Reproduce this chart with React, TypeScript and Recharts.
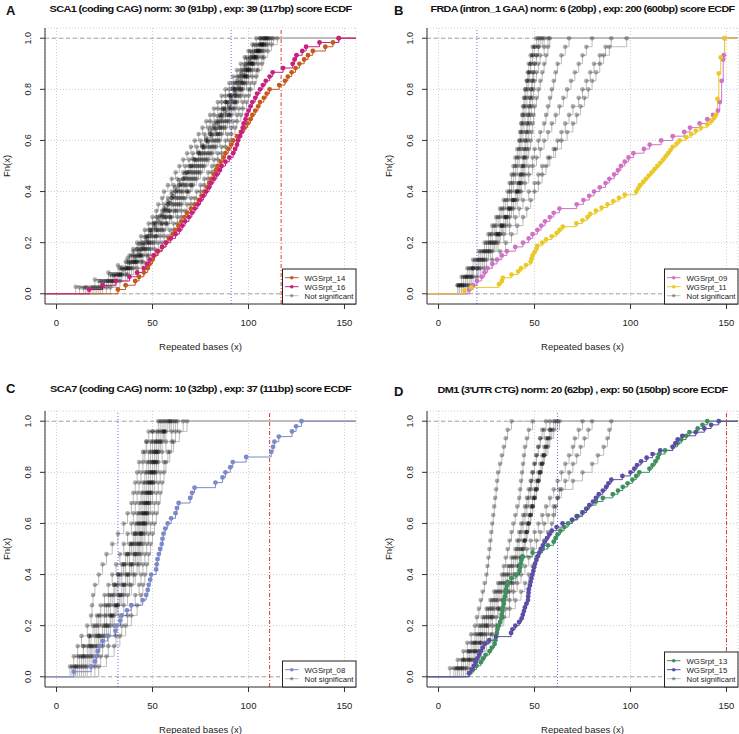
import React from "react";
import { LineChart, Line, XAxis, YAxis, CartesianGrid, ReferenceLine } from "recharts";

// ---- SCA1 (panel A) sample values, repeated bases ----
const sca1Rpt14 = [32, 36, 41, 43, 45.5, 47.5, 48.5, 50, 51, 53, 55, 57, 58.5, 60.5, 62, 63.5, 65, 66.7, 68, 70, 72, 74, 75.5, 77, 78.5, 79.5, 80.5, 82, 83, 84, 85.5, 87, 88, 89.5, 91, 92, 94, 96, 98, 99.5, 101, 102, 103.5, 105, 106, 108, 109.5, 111, 116, 119, 120.5, 122.5, 124.5, 126.5, 129, 131, 133.5, 140, 144, 147];
const sca1Rpt16 = [17, 24, 31, 38, 42, 45.5, 47, 48.5, 50.5, 52.5, 55, 57, 59.5, 62, 64, 65.5, 67, 69, 70.5, 72, 73.6, 75, 76.5, 78, 79.5, 80.5, 82, 83.5, 85, 86, 88, 90, 92, 93, 94, 94.5, 95.5, 96.5, 97, 97.5, 98.5, 99, 100, 101, 102, 103.5, 104.5, 106, 107.5, 109, 111, 112.6, 118, 123, 124, 125, 128, 130, 137, 147];
const sca1Gray = [
  [12, 22, 28, 33, 36, 38, 40, 42, 44, 46, 48, 50, 52, 53, 55, 56, 58, 60, 62, 64, 66, 68, 70, 72, 74, 76, 78, 80, 82, 84, 86, 88, 90, 92, 94, 96, 98, 100, 102, 104],
  [16, 25, 30, 34, 38, 40, 42, 44, 47, 48, 50, 52, 55, 56, 58, 60, 61, 63, 66, 67, 69, 71, 73, 75, 77, 79, 80, 82, 84, 86, 88, 90, 92, 94, 96, 98, 99, 101, 103, 106],
  [18, 26, 31, 36, 39, 41, 44, 46, 48, 50, 52, 55, 57, 58, 60, 62, 64, 66, 68, 70, 72, 74, 76, 78, 80, 81, 83, 85, 87, 88, 90, 92, 93, 95, 97, 99, 101, 103, 105, 107],
  [20, 27, 32, 36, 40, 42, 44, 47, 49, 52, 54, 56, 58, 60, 62, 64, 66, 68, 70, 72, 74, 76, 77, 79, 81, 83, 85, 86, 88, 89, 91, 93, 94, 96, 98, 100, 101, 104, 106, 108],
  [21, 28, 33, 38, 41, 43, 46, 48, 51, 53, 55, 57, 59, 62, 64, 66, 68, 70, 72, 74, 75, 77, 79, 81, 83, 85, 86, 88, 90, 91, 93, 94, 96, 98, 99, 101, 103, 105, 107, 109],
  [22, 29, 34, 38, 42, 44, 47, 50, 52, 55, 57, 59, 61, 63, 65, 68, 70, 71, 73, 75, 77, 79, 81, 83, 84, 86, 88, 90, 91, 93, 94, 96, 97, 99, 100, 102, 104, 106, 108, 110],
  [24, 30, 34, 39, 42, 45, 48, 51, 54, 56, 58, 60, 63, 65, 67, 69, 71, 73, 75, 77, 79, 81, 83, 85, 86, 88, 90, 91, 93, 94, 96, 97, 99, 100, 102, 103, 105, 107, 109, 111],
  [26, 31, 36, 40, 44, 47, 49, 53, 56, 59, 61, 63, 65, 68, 70, 73, 75, 77, 79, 81, 82, 84, 86, 88, 89, 91, 92, 94, 95, 97, 98, 100, 101, 102, 104, 105, 107, 108, 110, 113],
  [28, 33, 37, 42, 45, 48, 51, 55, 58, 61, 63, 65, 67, 70, 72, 75, 77, 79, 81, 83, 84, 86, 88, 90, 91, 93, 94, 96, 97, 99, 100, 101, 103, 104, 105, 107, 108, 110, 112, 115],
  [10, 20, 27, 32, 37, 40, 43, 46, 49, 51, 54, 56, 58, 60, 62, 64, 67, 69, 71, 74, 76, 78, 80, 82, 84, 86, 88, 90, 92, 94, 96, 98, 100, 102, 104, 106],
  [14, 24, 30, 35, 38, 41, 43, 45, 47, 49, 51, 53, 55, 57, 59, 61, 63, 65, 67, 69, 71, 73, 75, 77, 79, 81, 83, 84, 86, 88, 90, 91, 93, 95, 96, 98, 100, 101, 103, 105, 107, 109],
  [19, 27, 32, 37, 40, 43, 45, 48, 50, 52, 55, 57, 59, 61, 63, 65, 67, 69, 71, 73, 76, 78, 80, 82, 84, 85, 87, 89, 90, 92, 93, 95, 97, 98, 100, 102, 103, 105, 107, 110],
  [23, 29, 33, 37, 41, 44, 46, 49, 52, 54, 57, 59, 62, 64, 66, 68, 70, 72, 74, 76, 78, 80, 82, 84, 85, 87, 89, 90, 92, 93, 95, 96, 98, 99, 101, 102, 104, 106, 108, 112],
  [15, 23, 29, 34, 37, 39, 42, 45, 47, 49, 51, 53, 56, 58, 60, 62, 64, 66, 68, 70, 72, 74, 76, 78, 80, 82, 84, 86, 87, 89, 91, 93, 95, 97, 99, 100, 102, 104, 106, 108],
];

// ---- FRDA (panel B) ----
const frdaRpt09 = [16, 18, 20, 22.5, 24, 25.5, 28, 30.5, 33, 35.6, 40, 44, 47, 49, 51.5, 53.5, 55.5, 58, 60, 63, 72, 75.5, 78.5, 81, 84, 87, 89, 91.5, 93.5, 95, 97, 99, 101.5, 107, 110, 116, 122, 128, 131, 136, 140, 143, 145.5, 146.5, 146.5, 147.5, 147.5, 147.5, 147.5, 147.5, 148.3, 148.3, 148.3, 148.3, 148.3, 148.6, 149, 149, 149, 149];
const frdaRpt11 = [13.5, 17, 31.5, 33, 33.5, 38, 41.5, 43, 45.5, 48, 48.5, 49, 50, 51, 51.5, 54, 56, 59, 61.5, 63, 64.7, 71.8, 75, 77.6, 79, 82, 85, 88, 91, 94, 97, 103, 104, 105, 106.6, 108, 109.5, 111, 112.5, 114, 115.5, 117, 118.3, 119.6, 120.8, 122, 124, 125.6, 129, 131.6, 134, 136.7, 140, 142, 143.5, 144.5, 145.3, 145.3, 145.3, 145.3, 145.3, 146, 146, 146, 146, 146, 146, 146, 146, 147, 147, 147, 147, 147, 149, 149, 149, 149, 149, 149];
const frdaGray = [
  [10, 13, 16, 19, 22, 25, 27, 29, 31, 33, 35, 37, 38, 39, 40, 41, 42, 42.5, 43, 43.5, 44, 44.5, 45, 45.5, 46, 46.5, 47, 48, 49, 51],
  [11, 14, 17, 20, 23, 26, 28, 30, 32, 34, 36, 38, 39, 40, 41, 42, 43, 43.5, 44, 44.5, 45, 45.5, 46, 46.5, 47, 47.5, 48, 49, 50, 52],
  [12, 15, 18, 21, 24, 27, 30, 32, 34, 36, 38, 40, 41, 42, 43, 44, 44.5, 45, 45.5, 46, 46.5, 47, 47.5, 48, 48.5, 49, 50, 51, 52, 55],
  [13, 16, 20, 23, 26, 29, 31, 33, 35, 37, 39, 41, 42, 43, 44, 45, 46, 46.5, 47, 47.5, 48, 48.5, 49, 49.5, 50, 51, 52, 53, 55, 57],
  [10, 12, 15, 18, 21, 24, 26, 28, 30, 32, 34, 36, 37, 38, 39, 40, 41, 42, 42.5, 43, 43.5, 44, 44.5, 45, 46, 47, 48, 49, 50, 53],
  [14, 17, 21, 24, 27, 30, 32, 34, 36, 38, 40, 42, 43, 44, 45, 46, 47, 48, 48.5, 49, 49.5, 50, 51, 52, 53, 54, 55, 56, 57, 58],
  [11, 14, 18, 22, 25, 28, 31, 33, 35, 37, 39, 41, 42, 43, 44, 44.5, 45, 45.5, 46, 46.5, 47, 47.5, 48, 48.5, 49, 49.5, 50, 51, 52, 54],
  [12, 15, 18, 21, 24, 27, 30, 33, 35, 37, 39, 41, 43, 45, 47, 49, 50, 52, 53, 55, 56, 57, 58, 59, 60, 61, 62, 64, 66, 68],
  [13, 17, 20, 23, 26, 29, 32, 35, 37, 39, 41, 43, 45, 47, 49, 51, 53, 55, 57, 59, 61, 63, 65, 67, 69, 71, 73, 75, 77, 80],
  [15, 18, 22, 25, 28, 31, 34, 37, 40, 42, 44, 47, 50, 52, 54, 57, 60, 62, 64, 66, 68, 70, 73, 75, 77, 79, 81, 84, 87, 90],
  [16, 20, 24, 28, 32, 35, 38, 41, 44, 46, 48, 50, 52, 54, 56, 58, 61, 64, 67, 70, 72, 74, 76, 78, 80, 82, 84, 86, 89, 98],
];

// ---- SCA7 (panel C) ----
const sca7Rpt08 = [9, 18, 20, 20.6, 21.5, 22.5, 24, 26.6, 30.7, 31.4, 33.2, 34, 36.7, 38.9, 44.9, 46.7, 47.5, 48, 48.8, 49.3, 51.9, 52.2, 52.6, 53.3, 54, 54.8, 55.2, 55.7, 56.6, 57.9, 59.7, 62, 62.7, 63.6, 69.6, 70.6, 71.9, 82.8, 86.5, 88, 90.5, 91.8, 98.8, 111.8, 112.8, 113.5, 115.8, 122.7, 124.8, 127.6];
const sca7Gray = [
  [7, 9, 11, 13, 16, 18, 18.5, 19, 20, 22, 24, 26, 29, 32, 35, 37, 39, 40, 41, 42, 43, 45, 46.7, 50, 53],
  [9, 12, 14, 17, 19, 21, 23, 25, 27, 29, 31, 33, 35, 37, 39, 40, 41, 42, 43, 44, 45, 46, 47, 48, 54],
  [10, 13, 16, 18, 21, 23, 26, 28, 30, 32, 34, 36, 38, 40, 41, 42, 43, 44, 45, 46, 47, 48, 49, 50, 55],
  [12, 15, 18, 21, 24, 26, 28, 30, 32, 34, 36, 38, 40, 42, 43, 44, 45, 46, 47, 48, 49, 50, 51, 53, 57],
  [14, 17, 20, 23, 26, 28, 30, 32, 34, 36, 38, 40, 41, 43, 44, 45, 46, 47, 48, 49, 50, 51, 52, 54, 58],
  [16, 19, 22, 25, 28, 30, 32, 34, 36, 38, 40, 42, 43, 44, 46, 47, 48, 49, 50, 51, 52, 53, 55, 57, 60],
  [18, 21, 24, 27, 30, 33, 35, 37, 39, 41, 43, 44, 45, 46, 47, 48, 49, 50, 51, 52, 53, 55, 57, 60, 63],
  [20, 23, 27, 31, 34, 37, 39, 41, 43, 44, 45, 46, 47, 48, 49, 50, 51, 52, 53, 54, 56, 58, 60, 62, 66],
  [22, 26, 30, 33, 36, 39, 42, 44, 45, 46, 47, 48, 49, 50, 51, 52, 53, 54, 55, 56, 57, 59, 61, 64, 68],
  [8, 11, 14, 17, 20, 22, 25, 27, 30, 32, 35, 37, 39, 41, 42, 43, 44, 45, 46, 47, 48, 49, 50, 52, 56],
  [11, 14, 17, 20, 22, 25, 27, 29, 31, 33, 35, 37, 39, 41, 43, 45, 46, 47, 48, 49, 50, 51, 52, 55, 59],
  [13, 16, 19, 22, 25, 28, 31, 33, 35, 37, 39, 41, 42, 44, 45, 46, 47, 48, 49, 50, 51, 52, 53, 56, 61],
  [15, 18, 21, 24, 27, 29, 31, 33, 35, 37, 39, 41, 43, 44, 45, 46, 47, 48, 49, 50, 51, 52, 54, 56, 59],
  [10, 14, 18, 22, 26, 29, 32, 35, 38, 40, 42, 43, 44, 45, 46, 47, 48, 49, 50, 51, 52, 53, 54, 56, 62],
];

// ---- DM1 (panel D) ----
const dm1Rpt13 = [16, 18, 19.8, 22, 23.2, 24.5, 26.6, 27.8, 29.2, 29.6, 30, 30.4, 30.7, 31.4, 32.1, 32.7, 33, 33.3, 33.5, 34, 34.3, 34.6, 35, 35.2, 35.6, 36, 38, 40.5, 42.2, 42.5, 42.8, 43.1, 43.8, 49, 54.2, 57, 60, 61, 62, 63.5, 65.5, 67.5, 69.8, 72.5, 75, 77, 78.6, 82, 85.6, 90.8, 93.5, 96, 98.5, 101, 103, 104.6, 109.9, 111.5, 113, 114.2, 115, 118, 122, 124.5, 126.5, 129, 130.7, 135, 137.5, 140];
const dm1Rpt15 = [16, 17.2, 18.4, 19.3, 20.2, 21.2, 22, 23, 24, 26.4, 30, 37.8, 38.5, 40, 42, 43.3, 43.9, 44.5, 45, 45.8, 46.6, 46.7, 46.9, 47, 47.6, 48, 48.4, 48.9, 49.4, 49.8, 50.3, 51, 51.6, 52.5, 53.4, 54.4, 55.3, 56.5, 57.7, 59, 61.5, 64.6, 69.5, 72, 75, 77, 78.6, 80.5, 82, 83.5, 85.6, 87.3, 88.5, 90, 95.8, 100, 102, 103.4, 105.5, 108.4, 111.5, 115.5, 122, 123.4, 124.6, 127, 134, 138.5, 142, 146];
const dm1Gray = [
  [6, 10, 13, 15, 17, 19, 20, 21, 22, 23, 24, 25, 25.5, 26, 26.5, 27, 27.5, 28, 28.5, 29, 29.5, 30, 30.5, 31, 32, 33, 34, 35, 36, 38],
  [9, 13, 16, 18, 20, 22, 24, 26, 28, 30, 32, 34, 36, 38, 40, 41, 42, 43, 44, 45, 46, 47, 48, 49, 50, 51, 52, 53, 54, 56],
  [10, 14, 17, 19, 21, 23, 25, 27, 29, 31, 33, 35, 37, 39, 41, 42, 43, 44, 45, 46, 47, 48, 48.5, 49, 50, 51, 52, 53, 55, 58],
  [11, 15, 18, 20, 22, 24, 26, 28, 30, 32, 34, 36, 38, 40, 42, 44, 45, 46, 47, 48, 49, 50, 51, 52, 53, 54, 55, 56, 58, 60],
  [12, 16, 19, 21, 23, 25, 27, 29, 31, 33, 35, 37, 39, 41, 43, 45, 46, 47, 48, 49, 50, 51, 52, 53, 54, 55, 56, 57, 59, 62],
  [13, 17, 20, 22, 24, 26, 28, 31, 33, 35, 37, 39, 41, 43, 44, 45, 46, 47, 48, 49, 50, 51, 52, 53, 54, 55, 57, 58, 60, 63],
  [12, 16, 19, 22, 25, 28, 30, 32, 34, 36, 38, 40, 42, 44, 46, 48, 50, 52, 54, 56, 58, 60, 62, 64, 66, 68, 70, 71, 73, 75],
  [14, 18, 21, 24, 27, 30, 33, 35, 37, 39, 41, 43, 45, 47, 49, 51, 53, 55, 57, 60, 62, 64, 66, 68, 70, 72, 74, 76, 78, 80],
  [15, 19, 22, 25, 28, 31, 34, 37, 40, 43, 45, 47, 49, 51, 53, 55, 57, 59, 60, 61, 62, 63, 70, 75, 80, 83, 86, 88, 89, 90],
  [8, 12, 15, 17, 19, 21, 23, 25, 27, 29, 31, 33, 34, 35, 36, 37, 38, 39, 40, 41, 42, 42.5, 43, 43.5, 44, 44.5, 45, 46, 47, 49],
  [10, 13, 16, 19, 22, 25, 28, 31, 34, 37, 39, 41, 42, 43, 44, 45, 46, 47, 48, 49, 50, 51, 52, 53, 54, 55, 56, 57, 58, 61],
];

const X_TICKS = [0, 50, 100, 150];
const Y_TICKS = [0, 0.2, 0.4, 0.6, 0.8, 1];
const X_DOMAIN: [number, number] = [-6, 156];
const Y_DOMAIN: [number, number] = [-0.04, 1.04];
const FONT = "'Liberation Sans', Arial, Helvetica, sans-serif";
const GRAY = "rgba(0,0,0,0.32)";
const GRAY_LINE = "#bdbdbd";

type Pt = { x: number; y: number; edge?: boolean };

// empirical cdf like R's ecdf(): one step per unique value
function ecdf(values: number[]): Pt[] {
  const s = [...values].sort((a, b) => a - b);
  const n = s.length;
  const pts: Pt[] = [{ x: X_DOMAIN[0], y: 0, edge: true }];
  s.forEach((v, i) => {
    if (i < n - 1 && s[i + 1] === v) return;
    pts.push({ x: v, y: (i + 1) / n });
  });
  pts.push({ x: X_DOMAIN[1], y: 1, edge: true });
  return pts;
}

const makeDot = (fill: string, r: number) => (props: any) => {
  const { cx, cy, payload, index } = props;
  if (payload.edge || cx == null) return <g key={`e${index}`} />;
  return <circle key={`d${index}`} cx={cx} cy={cy} r={r} fill={fill} />;
};

type Series = { name: string; color: string; values: number[] };
type Panel = {
  letter: string;
  letterPos: [number, number];
  left: number;
  top: number;
  title: string;
  titleWidth: number;
  titleY: number;
  norm: number;
  exp: number;
  series: Series[];
  gray: number[][];
};

const panels: Panel[] = [
  {
    letter: "A", letterPos: [6, 14.5], left: 0, top: 0, titleY: 11.5, titleWidth: 302,
    title: "SCA1 (coding CAG) norm: 30 (91bp) , exp: 39 (117bp) score ECDF",
    norm: 91, exp: 117,
    series: [
      { name: "WGSrpt_14", color: "#C45A1E", values: sca1Rpt14 },
      { name: "WGSrpt_16", color: "#C8207F", values: sca1Rpt16 },
    ],
    gray: sca1Gray,
  },
  {
    letter: "B", letterPos: [394, 15], left: 382, top: 0, titleY: 11.5, titleWidth: 304,
    title: "FRDA (intron_1 GAA) norm: 6 (20bp) , exp: 200 (600bp) score ECDF",
    norm: 20, exp: 600,
    series: [
      { name: "WGSrpt_09", color: "#D073C6", values: frdaRpt09 },
      { name: "WGSrpt_11", color: "#EAC927", values: frdaRpt11 },
    ],
    gray: frdaGray,
  },
  {
    letter: "C", letterPos: [6, 393], left: 0, top: 383, titleY: 391.5, titleWidth: 301,
    title: "SCA7 (coding CAG) norm: 10 (32bp) , exp: 37 (111bp) score ECDF",
    norm: 32, exp: 111,
    series: [{ name: "WGSrpt_08", color: "#7D89C9", values: sca7Rpt08 }],
    gray: sca7Gray,
  },
  {
    letter: "D", letterPos: [394, 396], left: 382, top: 383, titleY: 392.5, titleWidth: 290,
    title: "DM1 (3'UTR CTG) norm: 20 (62bp) , exp: 50 (150bp) score ECDF",
    norm: 62, exp: 150,
    series: [
      { name: "WGSrpt_13", color: "#3F8F5F", values: dm1Rpt13 },
      { name: "WGSrpt_15", color: "#5C4DA5", values: dm1Rpt15 },
    ],
    gray: dm1Gray,
  },
];

const CHART_W = 370;
const CHART_H = 367;
const MARGIN = { top: 28, right: 14, bottom: 33, left: 15 };
const Y_AXIS_W = 30;
const X_AXIS_H = 30;

const XTick = (p: any) => (
  <text x={p.x} y={p.y} dy={14.5} textAnchor="middle" fontSize={9.5} fill="#222" fontFamily={FONT}>
    {p.payload.value}
  </text>
);

const YTick = (p: any) => {
  const bx = p.x - 6.5;
  return (
    <text x={bx} y={p.y} transform={`rotate(-90 ${bx} ${p.y})`} textAnchor="middle" fontSize={9} fill="#222" fontFamily={FONT}>
      {Number(p.payload.value).toFixed(1)}
    </text>
  );
};

function EcdfPanel({ panel }: { panel: Panel }) {
  return (
    <div style={{ position: "absolute", left: panel.left, top: panel.top }}>
      <LineChart width={CHART_W} height={CHART_H} margin={MARGIN}>
        <CartesianGrid stroke="#cfcfcf" strokeDasharray="1 2" />
        <XAxis
          type="number" dataKey="x" domain={X_DOMAIN} ticks={X_TICKS} allowDataOverflow
          height={X_AXIS_H} tickSize={5} tickMargin={2} stroke="#333" tick={<XTick />}
        />
        <YAxis
          type="number" dataKey="y" domain={Y_DOMAIN} ticks={Y_TICKS} allowDataOverflow
          width={Y_AXIS_W} tickSize={5} tickMargin={2} stroke="#333" tick={<YTick />}
        />
        <XAxis xAxisId="top" orientation="top" type="number" domain={X_DOMAIN} height={0} tick={false} tickLine={false} stroke="#333" />
        <YAxis yAxisId="right" orientation="right" type="number" domain={Y_DOMAIN} width={0} tick={false} tickLine={false} stroke="#333" />
        <ReferenceLine y={0} stroke="#a6a6a6" strokeDasharray="4 3" />
        <ReferenceLine y={1} stroke="#a6a6a6" strokeDasharray="4 3" />
        {panel.gray.map((g, i) => (
          <Line
            key={`g${i}`} data={ecdf(g)} dataKey="y" type="stepAfter" stroke={GRAY_LINE} strokeWidth={1}
            dot={makeDot(GRAY, 2.3)} activeDot={false} isAnimationActive={false} legendType="none"
          />
        ))}
        {panel.series.map((s) => (
          <Line
            key={s.name} data={ecdf(s.values)} dataKey="y" type="stepAfter" stroke={s.color} strokeWidth={1}
            dot={makeDot(s.color, 2.4)} activeDot={false} isAnimationActive={false} legendType="none"
          />
        ))}
        <ReferenceLine x={panel.norm} stroke="#6a6aff" strokeDasharray="1 2" />
        {panel.exp <= X_DOMAIN[1] && <ReferenceLine x={panel.exp} stroke="#e03a3a" strokeDasharray="4 2 1 2" />}
      </LineChart>
    </div>
  );
}

function Overlay() {
  return (
    <svg width={739} height={734} style={{ position: "absolute", left: 0, top: 0, pointerEvents: "none" }}>
      {panels.map((p) => {
        const pl = p.left + MARGIN.left + Y_AXIS_W;
        const pr = p.left + CHART_W - MARGIN.right;
        const pt = p.top + MARGIN.top;
        const pb = p.top + CHART_H - MARGIN.bottom - X_AXIS_H;
        const cx = (pl + pr) / 2;
        const cy = (pt + pb) / 2;
        const entries = [
          ...p.series.map((s) => ({ name: s.name, color: s.color, line: s.color })),
          { name: "Not significant", color: GRAY, line: GRAY_LINE },
        ];
        const lw = 73.5;
        const lh = 9 * entries.length + 8;
        const lx = pr - lw;
        const ly = pb - lh;
        return (
          <g key={p.letter} fontFamily={FONT}>
            <text x={p.letterPos[0]} y={p.letterPos[1]} fontSize={13} fontWeight="bold" fill="#111">{p.letter}</text>
            <text x={cx} y={p.titleY} textAnchor="middle" fontSize={9.6} fontWeight="bold" fill="#111"
              letterSpacing="-0.55" textLength={p.titleWidth} lengthAdjust="spacingAndGlyphs">{p.title}</text>
            <text x={p.left + 10} y={cy} transform={`rotate(-90 ${p.left + 10} ${cy})`} textAnchor="middle" fontSize={9.5} fill="#222">Fn(x)</text>
            <text x={cx} y={pb + 45.5} textAnchor="middle" fontSize={9.5} fill="#222">Repeated bases (x)</text>
            <rect x={lx} y={ly} width={lw} height={lh} fill="#fff" stroke="#222" strokeWidth={1} />
            {entries.map((e, i) => {
              const ry = ly + 8.7 + 9 * i;
              return (
                <g key={e.name}>
                  <line x1={lx + 2.5} x2={lx + 16} y1={ry} y2={ry} stroke={e.line} strokeWidth={1} />
                  <circle cx={lx + 9.25} cy={ry} r={1.8} fill={e.color} />
                  <text x={lx + 22} y={ry + 2.8} fontSize={7.8} fill="#222">{e.name}</text>
                </g>
              );
            })}
          </g>
        );
      })}
    </svg>
  );
}

export default function App() {
  return (
    <div style={{ position: "absolute", left: 0, top: 0, width: 739, height: 734, overflow: "hidden", background: "#fff" }}>
      {panels.map((p) => (
        <EcdfPanel key={p.letter} panel={p} />
      ))}
      <Overlay />
    </div>
  );
}
